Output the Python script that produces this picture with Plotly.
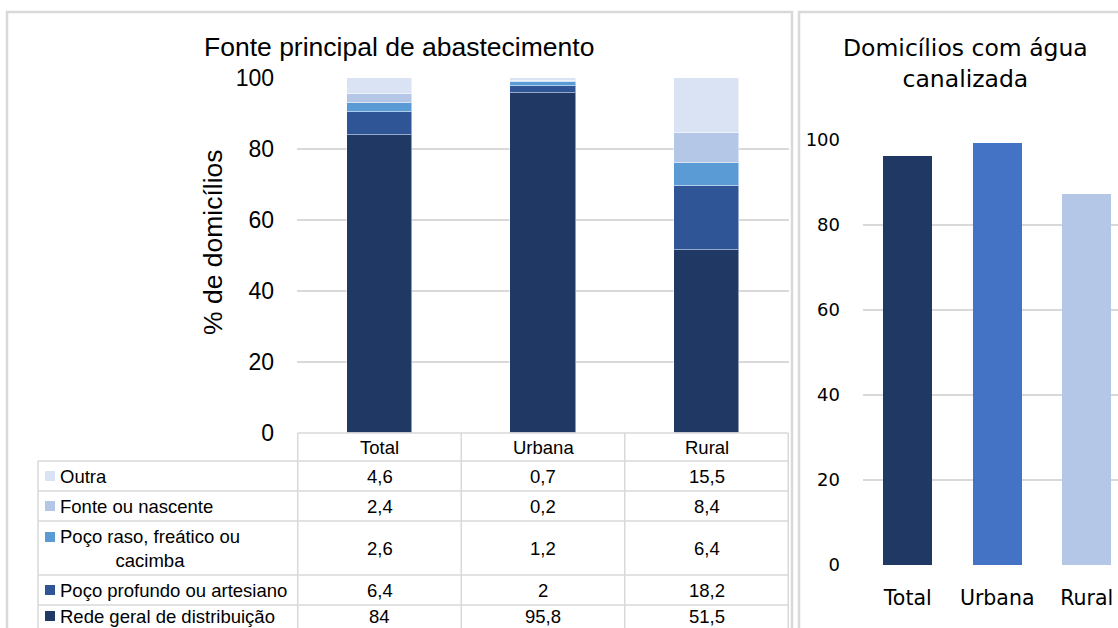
import plotly.graph_objects as go

# ---------------- data ----------------
categories = ["Total", "Urbana", "Rural"]
series_names = ["Rede geral de distribuição", "Poço profundo ou artesiano",
                "Poço raso, freático ou cacimba", "Fonte ou nascente", "Outra"]
rede = [84, 95.8, 51.5]
poco_profundo = [6.4, 2, 18.2]
poco_raso = [2.6, 1.2, 6.4]
fonte = [2.4, 0.2, 8.4]
outra = [4.6, 0.7, 15.5]
agua_canalizada = [96.2, 99.3, 87.4]
y_ticks = [0, 20, 40, 60, 80, 100]

# ---------------- styles ----------------
W, H = 1118, 628
def X(px): return px / W
def Y(py): return 1 - py / H

stack_colors = ["#203864", "#2F5597", "#5B9BD5", "#B4C7E7", "#DAE3F3"]
right_colors = ["#203864", "#4472C4", "#B4C7E7"]
GRID = "#D9D9D9"
LFONT = "Liberation Sans, Arial, sans-serif"
RFONT = "DejaVu Sans, Verdana, sans-serif"
TFS = 18.5

series_vals = [rede, poco_profundo, poco_raso, fonte, outra]

fig = go.Figure()
for name, vals, col in zip(series_names, series_vals, stack_colors):
    fig.add_trace(go.Bar(x=categories, y=vals, name=name, marker_color=col,
                         marker_line=dict(color="rgba(255,255,255,0.5)", width=1),
                         width=0.4, xaxis="x", yaxis="y", showlegend=False,
                         hoverinfo="skip"))

fig.add_trace(go.Bar(x=categories, y=agua_canalizada, marker_color=right_colors,
                     marker_line_width=0, width=0.55, xaxis="x2", yaxis="y2",
                     showlegend=False, hoverinfo="skip"))

shapes = []
annotations = []

# panel borders
shapes.append(dict(type="rect", xref="paper", yref="paper", x0=X(7), x1=X(792),
                   y0=Y(660), y1=Y(12), line=dict(color=GRID, width=2.5), layer="below"))
shapes.append(dict(type="rect", xref="paper", yref="paper", x0=X(799), x1=X(1140),
                   y0=Y(660), y1=Y(12), line=dict(color=GRID, width=2.5), layer="below"))

# ---------------- data table (left panel) ----------------
row_edges = [461, 491, 521, 575, 605, 635]   # pixel rows for Outra..Rede
row_order = [4, 3, 2, 1, 0]                    # table rows top->bottom: Outra ... Rede
tcol = "#D9D9D9"
shapes.append(dict(type="line", xref="x", yref="paper", x0=-0.5, x1=2.5,
                   y0=Y(433), y1=Y(433), line=dict(color=tcol, width=1.5)))
for xb in [-0.5, 0.5, 1.5, 2.5]:
    shapes.append(dict(type="line", xref="x", yref="paper", x0=xb, x1=xb,
                       y0=Y(433), y1=Y(640), line=dict(color=tcol, width=1.5)))
shapes.append(dict(type="line", xref="paper", yref="paper", x0=X(38), x1=X(38),
                   y0=Y(461), y1=Y(640), line=dict(color=tcol, width=1.5)))
for ry in row_edges[:-1]:
    shapes.append(dict(type="line", xref="paper", yref="paper", x0=X(38), x1=X(789),
                       y0=Y(ry), y1=Y(ry), line=dict(color=tcol, width=1.5)))

for c in categories:
    annotations.append(dict(x=c, y=Y(447), xref="x", yref="paper", text=c,
                            showarrow=False, font=dict(family=LFONT, size=TFS, color="#000"),
                            xanchor="center", yanchor="middle"))

def fmt(v):
    return f"{v:g}".replace(".", ",")

for i, si in enumerate(row_order):
    top, bot = row_edges[i], row_edges[i + 1]
    yc = (top + bot) / 2
    if i == len(row_order) - 1:
        yc = 616  # keep the last (partially visible) row fully inside the page
    name = series_names[si]
    key_y = yc
    if si == 2:
        label = "Poço raso, freático ou<br>cacimba"
        annotations.append(dict(x=X(150), y=Y(yc), xref="paper", yref="paper", text=label,
                                showarrow=False, align="center", xanchor="center",
                                yanchor="middle", font=dict(family=LFONT, size=TFS, color="#000")))
        key_y = top + 16
    else:
        annotations.append(dict(x=X(58), y=Y(yc), xref="paper", yref="paper", text=name,
                                showarrow=False, xanchor="left", yanchor="middle",
                                font=dict(family=LFONT, size=TFS, color="#000")))
    shapes.append(dict(type="rect", xref="paper", yref="paper", x0=X(45), x1=X(55),
                       y0=Y(key_y + 5), y1=Y(key_y - 5), fillcolor=stack_colors[si],
                       line=dict(width=0)))
    for c, v in zip(categories, series_vals[si]):
        annotations.append(dict(x=c, y=Y(yc), xref="x", yref="paper", text=fmt(v),
                                showarrow=False, xanchor="center", yanchor="middle",
                                font=dict(family=LFONT, size=TFS, color="#000")))

# titles
annotations.append(dict(x=X(399), y=Y(47), xref="paper", yref="paper",
                        text="Fonte principal de abastecimento", showarrow=False,
                        xanchor="center", yanchor="middle",
                        font=dict(family=LFONT, size=26.5, color="#000")))
annotations.append(dict(x=X(213), y=Y(242), xref="paper", yref="paper",
                        text="% de domicílios", showarrow=False, textangle=-90,
                        xanchor="center", yanchor="middle",
                        font=dict(family=LFONT, size=26.5, color="#000")))
annotations.append(dict(x=X(965), y=Y(63), xref="paper", yref="paper",
                        text="Domicílios com água<br>canalizada", showarrow=False,
                        xanchor="center", yanchor="middle", align="center",
                        font=dict(family=RFONT, size=23.5, color="#000")))

fig.update_layout(
    width=W, height=H, margin=dict(l=0, r=0, t=0, b=0, pad=0, autoexpand=False),
    paper_bgcolor="white", plot_bgcolor="white", barmode="stack",
    bargap=0,
    xaxis=dict(domain=[X(297), X(789)], showticklabels=False, showgrid=False,
               zeroline=False, showline=False, fixedrange=True, anchor="y",
               automargin=False),
    yaxis=dict(domain=[Y(433), Y(78)], range=[0, 100], tickvals=y_ticks,
               gridcolor=GRID, gridwidth=1.5, zeroline=False, showline=False,
               ticks="", ticklabelstandoff=22, automargin=False,
               tickfont=dict(family=LFONT, size=23, color="#000"), anchor="x"),
    xaxis2=dict(domain=[X(863), 1], range=[-0.5, 2.35], showgrid=False,
                zeroline=False, showline=False, ticks="", ticklabelstandoff=18,
                automargin=False,
                tickfont=dict(family=RFONT, size=20.5, color="#000"), anchor="y2"),
    yaxis2=dict(domain=[Y(565), Y(140)], range=[0, 100], tickvals=y_ticks,
                gridcolor=GRID, gridwidth=1.5, zeroline=False, showline=False,
                ticks="", ticklabelstandoff=22, automargin=False,
                tickfont=dict(family=RFONT, size=18, color="#000"), anchor="x2"),
    shapes=shapes, annotations=annotations,
)

fig.write_html("out.html")
